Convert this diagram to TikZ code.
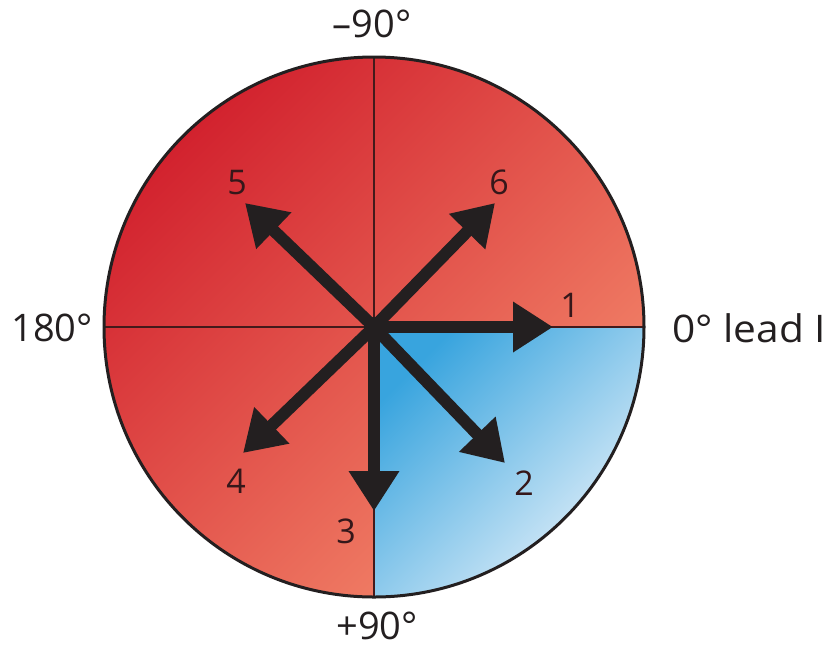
\documentclass[tikz,border=0pt]{standalone}
\usepackage{fontspec}
\setmainfont{Open Sans}
\usetikzlibrary{arrows.meta}
\definecolor{redA}{HTML}{D2222E}
\definecolor{redB}{HTML}{EA4F3C}
\definecolor{redC}{HTML}{F4896C}
\definecolor{blueA}{HTML}{38A4DE}
\definecolor{blueB}{HTML}{E6F1FA}
\definecolor{txt}{HTML}{231F20}
\definecolor{numtxt}{HTML}{35171A}
\tikzset{
  vec/.style={line width=12pt, draw=txt,
    -{Triangle[length=40pt,width=48pt]}},
  axis/.style={line width=2pt, draw=txt!85!red},
  outer/.style={font=\fontsize{38}{40}\selectfont, text=txt, inner sep=0pt},
  num/.style={font=\fontsize{34}{36}\selectfont, text=numtxt, inner sep=0pt},
}
\begin{document}
\begin{tikzpicture}[x=1pt,y=-1pt]
\useasboundingbox (0,0) rectangle (825,649);
\coordinate (O) at (374,327);
% red disc
\shade[top color=redA, middle color=redB, bottom color=redC, shading angle=45]
  (O) circle[radius=270pt];
% blue quadrant
\begin{scope}
  \clip (O) circle[radius=270pt];
  \shade[top color=blueA, bottom color=blueB, shading angle=45]
    (374,327) rectangle (644,597);
\end{scope}
% axes
\coordinate (T) at (374,57);
\coordinate (B) at (374,597);
\coordinate (L) at (104,327);
\coordinate (R) at (644,327);
\draw[axis] (T) -- (B);
\draw[axis] (L) -- (R);
\draw[line width=3pt, draw=txt] (O) circle[radius=270pt];
% vectors
\coordinate (t1) at (553,327);
\coordinate (t2) at (505,463);
\coordinate (t3) at (374,511);
\coordinate (t4) at (243,453);
\coordinate (t5) at (245,203);
\coordinate (t6) at (495,203);
\foreach \t in {t1,t2,t3,t4,t5,t6} \draw[vec] (O) -- (\t);
\fill[txt] (O) circle[radius=10pt];
% number labels
\node[num] (n1) at (570,305) {1};
\node[num] (n2) at (524,483) {2};
\node[num] (n3) at (346,531) {3};
\node[num] (n4) at (236,481) {4};
\node[num] (n5) at (237,183) {5};
\node[num] (n6) at (499,182) {6};
% outer labels
\node[outer] (top) at (372,24) {–90°};
\node[outer] (left) at (52,328) {180°};
\node[outer] (bot) at (377,626) {+90°};
\node[outer, anchor=west] (right) at (672,328)
  {\scalebox{1.07}[1]{0° lead I}};
\end{tikzpicture}
\end{document}
